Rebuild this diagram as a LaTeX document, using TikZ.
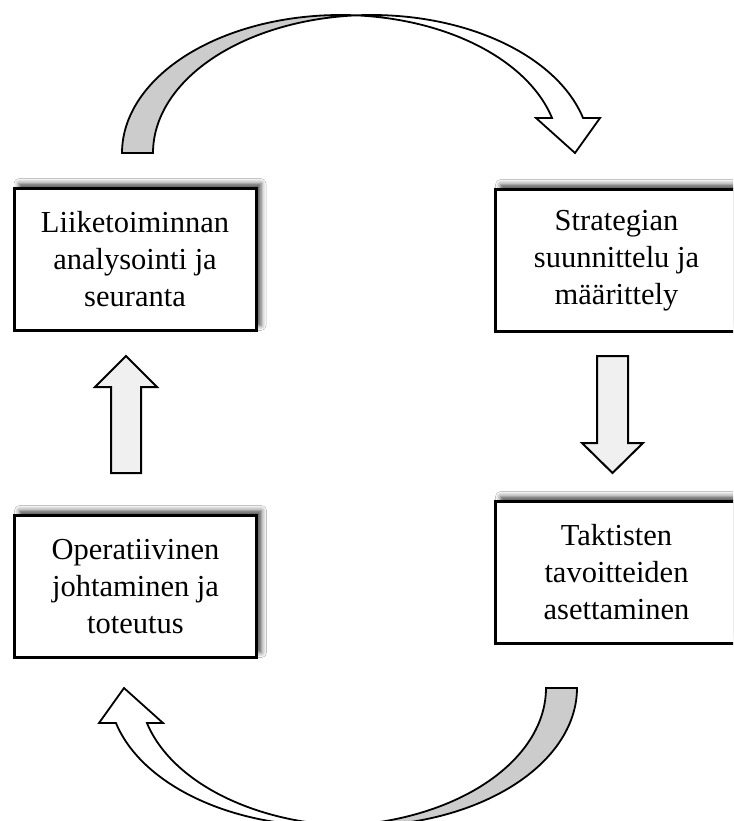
\documentclass[tikz,border=0pt]{standalone}
\usepackage{fontspec}
\setmainfont{Liberation Serif}
\usetikzlibrary{shadows.blur}

\definecolor{bandback}{HTML}{CCCCCC}
\definecolor{blockfill}{HTML}{F0F0F0}

\tikzset{
  stepbox/.style={draw=black, line width=3pt, fill=white,
    minimum width=242pt, minimum height=142pt, inner sep=0pt,
    align=center, font=\fontsize{30.5pt}{37pt}\selectfont,
    blur shadow={shadow xshift=5pt, shadow yshift=5pt,
      shadow blur radius=5pt, shadow opacity=70}},
  bandline/.style={draw=black, line width=1.8pt},
  blockarrow/.style={draw=black, line width=2pt, fill=blockfill}
}

% curved ribbon arrow built from two equal ellipses shifted by the band thickness
\newcommand\ribbonarrow{%
  \filldraw[bandline, fill=bandback]
    plot[domain=180:85.93, samples=80] ({340.6+218.6*cos(\x)},{153-138*sin(\x)})
    -- plot[domain=94.07:180, samples=80] ({371.6+218.6*cos(\x)},{153-138*sin(\x)})
    -- cycle;
  \filldraw[bandline, fill=white]
    plot[domain=94.07:14.69, samples=80] ({371.6+218.6*cos(\x)},{153-138*sin(\x)})
    -- (600,118) -- (575,153) -- (536,118)
    -- plot[domain=14.69:85.93, samples=80] ({340.6+218.6*cos(\x)},{153-138*sin(\x)})
    -- cycle;
}

\begin{document}
\begin{tikzpicture}[x=1pt, y=-1pt]
  \useasboundingbox (0,0) rectangle (733,821);
  \fill[white] (0,0) rectangle (733,821);
  \clip (0,0) rectangle (733,821);

  % the four stages
  \node[stepbox] (analysis) at (135,259.5)
    {Liiketoiminnan\\analysointi ja\\seuranta};
  \node[stepbox] (strategy) at (616.5,260.5)
    {Strategian\\suunnittelu ja\\määrittely};
  \node[stepbox] (tactics) at (616.5,572.5)
    {Taktisten\\tavoitteiden\\asettaminen};
  \node[stepbox] (operations) at (135.5,586.5)
    {Operatiivinen\\johtaminen ja\\toteutus};

  % curved arrows over the top and under the bottom
  \ribbonarrow
  \begin{scope}[rotate around={180:(349.5,420.5)}]
    \ribbonarrow
  \end{scope}

  % straight block arrows
  \filldraw[blockarrow] (111,473) -- (111,387) -- (95,387) -- (126,356)
    -- (157,387) -- (141,387) -- (141,473) -- cycle;
  \filldraw[blockarrow] (597,356) -- (597,443) -- (582,443) -- (612.5,473)
    -- (643,443) -- (628,443) -- (628,356) -- cycle;
\end{tikzpicture}
\end{document}
